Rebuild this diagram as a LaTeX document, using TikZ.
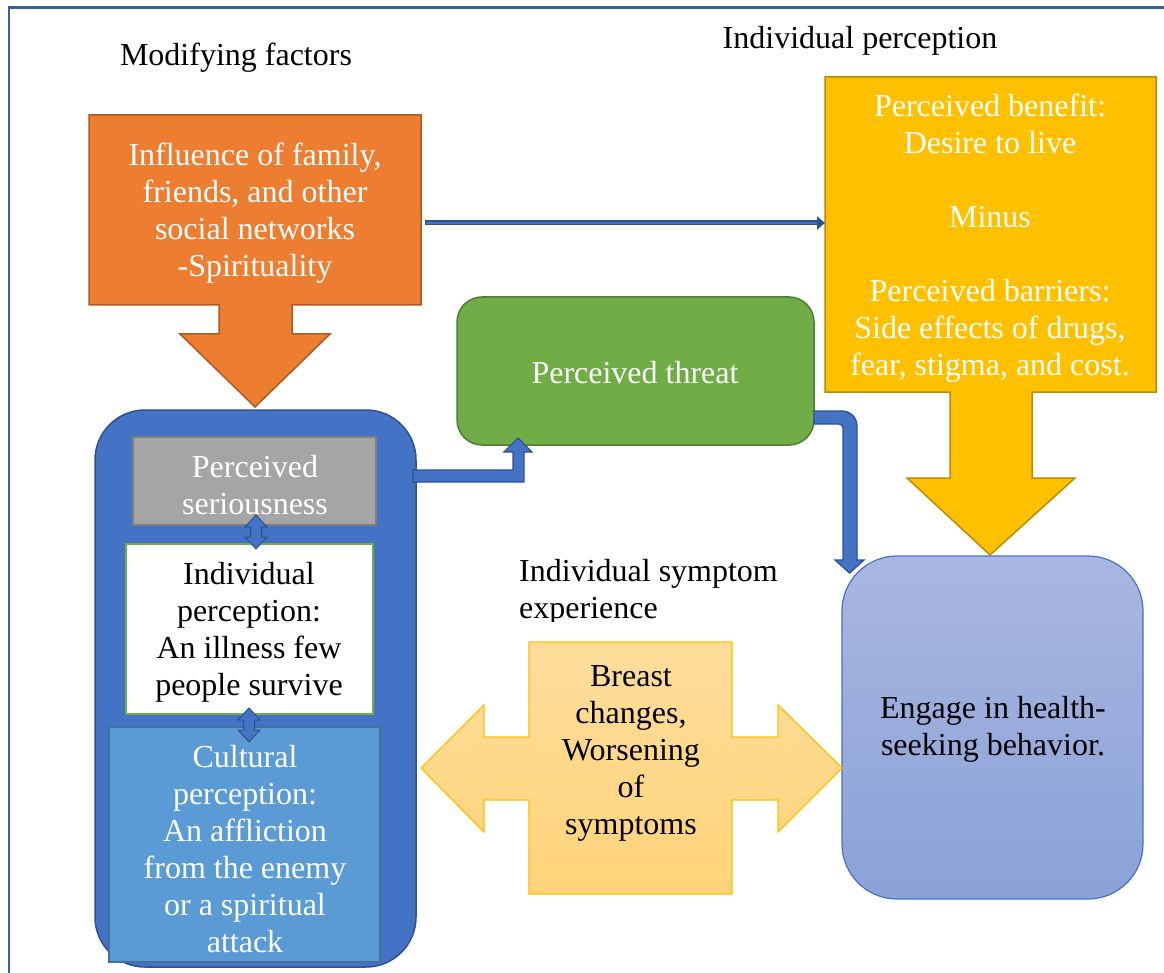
\documentclass[tikz,border=0pt]{standalone}
\usepackage{fontspec}
\setmainfont{Liberation Serif}
\usetikzlibrary{arrows.meta}
\definecolor{orangeF}{HTML}{ED7D31}
\definecolor{orangeD}{HTML}{AE5A21}
\definecolor{yellowF}{HTML}{FFC000}
\definecolor{yellowD}{HTML}{BC8C00}
\definecolor{greenF}{HTML}{70AD47}
\definecolor{greenD}{HTML}{507E32}
\definecolor{blueF}{HTML}{4472C4}
\definecolor{blueD}{HTML}{2F528F}
\definecolor{grayF}{HTML}{A5A5A5}
\definecolor{grayD}{HTML}{7F7F7F}
\definecolor{cultF}{HTML}{5B9BD5}
\definecolor{cultD}{HTML}{41719C}
\definecolor{engTop}{HTML}{A9B6E0}
\definecolor{engBot}{HTML}{8AA2D8}
\definecolor{crossTop}{HTML}{FEDD9C}
\definecolor{crossBot}{HTML}{FED379}
\definecolor{frameC}{HTML}{3C5D9E}
\tikzset{
  txt/.style={font=\fontsize{32}{37}\selectfont, align=center, inner sep=0pt},
  wtxt/.style={txt, text=white},
  shapebox/.style={line width=1.5pt, inner sep=0pt},
  blockarrow/.style={fill=blueF, draw=blueD, line width=1.3pt, line join=miter},
}
\begin{document}
\begin{tikzpicture}[x=1pt,y=-1pt]
\useasboundingbox (0,0) rectangle (1164,973);
\fill[white] (0,0) rectangle (1164,973);
% frame
\draw[frameC, line width=2.5pt] (9,973) -- (9,7.5) -- (1164,7.5);

% headings
\node[txt] (modhead) at (236,58) {Modifying factors};
\node[txt] (indhead) at (860,41) {Individual perception};

% orange callout
\draw[fill=orangeF, draw=orangeD, line width=1.5pt]
  (89,115) -- (421,115) -- (421,305) -- (292,305) -- (292,334) -- (330,334)
  -- (255,407) -- (180,334) -- (219,334) -- (219,305) -- (89,305) -- cycle;
\node[wtxt] (modtext) at (255,213) {Influence of family,\\friends, and other\\social networks\\-Spirituality};

% yellow callout
\draw[fill=yellowF, draw=yellowD, line width=1.5pt]
  (825,77) -- (1156,77) -- (1156,392) -- (1032,392) -- (1032,478) -- (1075,478)
  -- (990,555) -- (907,478) -- (950,478) -- (950,392) -- (825,392) -- cycle;
\node[wtxt] (bentext) at (990,238) {Perceived benefit:\\Desire to live\\[37pt]Minus\\[37pt]Perceived barriers:\\Side effects of drugs,\\fear, stigma, and cost.};

% thin arrow orange -> yellow
\coordinate (orangeR) at (425,223);
\coordinate (yellowL) at (825,223);
\draw[blueD, line width=5pt, -{Triangle[width=13pt,length=8pt]}] (orangeR) -- (yellowL);
\draw[blueF, line width=2.4pt, shorten >=8pt] (orangeR) ++(1.3,0) -- (yellowL);

% engage box
\node[shapebox, draw=blueF, line width=1.2pt, top color=engTop, bottom color=engBot,
  rounded corners=55pt, minimum width=301pt, minimum height=343pt] (engage) at (992.5,727.5) {};
\node[txt] (engtext) at (993,729) {Engage in health-\\seeking behavior.};

% green threat box
\node[shapebox, fill=greenF, draw=greenD, rounded corners=25pt,
  minimum width=357pt, minimum height=148pt] (threat) at (635.5,371) {};
\node[wtxt] (threattext) at (635,373) {Perceived threat};

% big blue container
\node[shapebox, fill=blueF, draw=blueD, rounded corners=50pt,
  minimum width=321pt, minimum height=557pt] (big) at (255.5,688.5) {};
% gray
\node[shapebox, fill=grayF, draw=grayD, minimum width=243pt, minimum height=88pt] (serious) at (254.5,481) {};
\node[wtxt] (serioustext) at (255,485) {Perceived\\seriousness};
% white
\node[shapebox, fill=white, draw=greenF, minimum width=247pt, minimum height=170pt] (indiv) at (249.5,629) {};
\node[txt] (indivtext) at (249,632) {Individual\\perception:\\An illness few\\people survive};
% cultural
\node[shapebox, fill=cultF, draw=cultD, minimum width=271pt, minimum height=235pt] (cult) at (244.5,844.5) {};
\node[wtxt] (culttext) at (245,849) {Cultural\\perception:\\An affliction\\from the enemy\\or a spiritual\\attack};

% small double arrows
\draw[blockarrow, line width=1pt] (256,515) -- (267,527) -- (261.5,527) -- (261.5,537) -- (267,537) -- (256,549)
  -- (245,537) -- (250.5,537) -- (250.5,527) -- (245,527) -- cycle;
\draw[blockarrow, line width=1pt] (249,708) -- (260,720) -- (254.5,720) -- (254.5,730) -- (260,730) -- (249,742)
  -- (238,730) -- (243.5,730) -- (243.5,720) -- (238,720) -- cycle;

% elbow arrow: seriousness container -> threat
\draw[blockarrow] (413,470) -- (513,470) -- (513,452) -- (504,452) -- (518,438) -- (532,452)
  -- (524,452) -- (524,482) -- (413,482) -- cycle;

% elbow arrow: threat -> engage
\draw[blockarrow] (814,411) -- (842,411) .. controls (850.3,411) and (857,417.7) .. (857,426)
  -- (857,560) -- (864,560) -- (849.5,573) -- (835,560) -- (843,560) -- (843,428)
  .. controls (843,425.8) and (841.2,424) .. (839,424) -- (814,424) -- cycle;

% cross arrow (symptoms)
\draw[top color=crossTop, bottom color=crossBot, draw=yellowF, line width=1.3pt]
  (529,642) -- (732,642) -- (732,737) -- (778,737) -- (778,705) -- (842,768) -- (778,832)
  -- (778,800) -- (732,800) -- (732,894) -- (529,894) -- (529,800) -- (484,800) -- (484,832)
  -- (421,768) -- (484,705) -- (484,737) -- (529,737) -- cycle;
\node[txt] (symtext) at (631,753) {Breast\\changes,\\Worsening\\of\\symptoms};

% symptom label (clipped at bottom)
\begin{scope}
\clip (500,540) rectangle (820,621);
\node[txt, align=left, anchor=west] (symhead) at (519,592) {Individual symptom\\experience};
\end{scope}
\end{tikzpicture}
\end{document}
